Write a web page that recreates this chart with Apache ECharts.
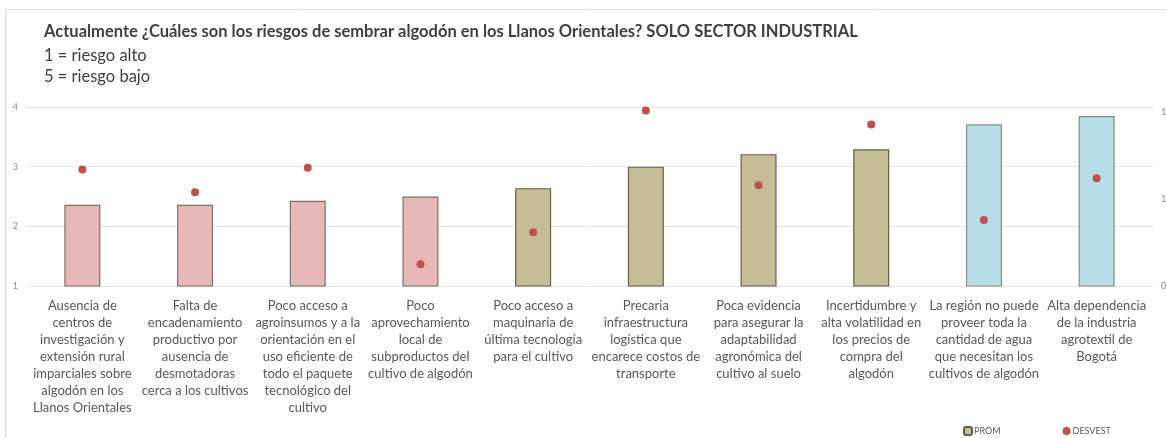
<!DOCTYPE html>
<html lang="es">
<head>
    <meta charset="UTF-8">
    <title>Riesgos algodón</title>
    <style>
        html, body { margin: 0; padding: 0; background: #fff; }
        #main { width: 1167px; height: 438px; }
    </style>
</head>
<body>
<div id="main"></div>
<script src="https://cdn.jsdelivr.net/npm/echarts@6/dist/echarts.min.js"></script>
<script>
    // categorias (saltos de linea como en el original)
    var categorias = [
        'Ausencia de\ncentros de\ninvestigación y\nextensión rural\nimparciales sobre\nalgodón en los\nLlanos Orientales',
        'Falta de\nencadenamiento\nproductivo por\nausencia de\ndesmotadoras\ncerca a los cultivos',
        'Poco acceso a\nagroinsumos y a la\norientación en el\nuso eficiente de\ntodo el paquete\ntecnológico del\ncultivo',
        'Poco\naprovechamiento\nlocal de\nsubproductos del\ncultivo de algodón',
        'Poco acceso a\nmaquinaria de\núltima tecnología\npara el cultivo',
        'Precaria\ninfraestructura\nlogística que\nencarece costos de\ntransporte',
        'Poca evidencia\npara asegurar la\nadaptabilidad\nagronómica del\ncultivo al suelo',
        'Incertidumbre y\nalta volatilidad en\nlos precios de\ncompra del\nalgodón',
        'La región no puede\nproveer toda la\ncantidad de agua\nque necesitan los\ncultivos de algodón',
        'Alta dependencia\nde la industria\nagrotextil de\nBogotá'
    ];
    var prom = [2.36, 2.36, 2.43, 2.50, 2.64, 3.00, 3.21, 3.29, 3.71, 3.85];
    var desvest = [0.67, 0.54, 0.68, 0.125, 0.31, 1.01, 0.58, 0.93, 0.38, 0.62];
    var grupo = [0, 0, 0, 0, 1, 1, 1, 1, 2, 2];
    var ejeIzq = [1, 2, 3, 4];
    // eje derecho: valores 0 / 0.5 / 1 mostrados redondeados (formato "0")
    var ejeDer = [0, 0.5, 1];
    var ejeDerTexto = ['0', '1', '1'];

    var colores = ['#E6B9B8', '#C4BD97', '#B7DEE8'];
    var bordes = ['#7d7064', '#655f4a', '#858d82'];

    var myChart = echarts.init(document.getElementById('main'));

    var barData = [];
    for (var i = 0; i < prom.length; i++) {
        barData.push({
            value: prom[i],
            itemStyle: {color: colores[grupo[i]], borderColor: bordes[grupo[i]]}
        });
    }

    var fuente = 'Lato, "Open Sans", sans-serif';

    var option = {
        animation: false,
        textStyle: {fontFamily: fuente},
        graphic: [
            {
                type: 'rect',
                shape: {x: 5.5, y: 9.5, width: 1170, height: 440},
                style: {fill: 'none', stroke: '#d9d9d9', lineWidth: 1},
                silent: true
            },
            {
                type: 'text', left: 44, top: 23,
                style: {
                    text: 'Actualmente ¿Cuáles son los riesgos de sembrar algodón en los Llanos Orientales? SOLO SECTOR INDUSTRIAL',
                    fill: '#404040', font: 'bold 16.5px ' + fuente
                }
            },
            {
                type: 'text', left: 44, top: 47,
                style: {text: '1 = riesgo alto', fill: '#404040', font: '16.5px ' + fuente}
            },
            {
                type: 'text', left: 44, top: 68,
                style: {text: '5 = riesgo bajo', fill: '#404040', font: '16.5px ' + fuente}
            }
        ],
        legend: {
            data: ['PROM', 'DESVEST'],
            left: 958,
            top: 421,
            itemGap: 62,
            itemWidth: 8,
            itemHeight: 8,
            textStyle: {fontSize: 9, color: '#595959', padding: [0, 0, 0, -3]}
        },
        grid: {left: 26, right: 14, top: 107, bottom: 152, outerBoundsMode: 'none', containLabel: false},
        xAxis: {
            type: 'category',
            data: categorias,
            axisLine: {show: false},
            axisTick: {show: false},
            axisLabel: {
                interval: 0,
                color: '#595959',
                fontSize: 13,
                lineHeight: 17,
                margin: 11,
                align: 'center'
            }
        },
        yAxis: [
            {
                type: 'value',
                min: ejeIzq[0],
                max: ejeIzq[ejeIzq.length - 1],
                interval: 1,
                axisLine: {show: false},
                axisTick: {show: false},
                axisLabel: {color: '#8c8c8c', fontSize: 9, margin: 8},
                splitLine: {lineStyle: {color: '#e3e3e3', width: 1}}
            },
            {
                type: 'value',
                min: 0,
                max: 1.03,
                interval: 0.5,
                axisLine: {show: false},
                axisTick: {show: false},
                splitLine: {show: false},
                axisLabel: {
                    color: '#8c8c8c', fontSize: 9, margin: 8,
                    hideOverlap: false,
                    showMaxLabel: false,
                    formatter: function (v) {
                        var k = ejeDer.indexOf(Math.round(v * 100) / 100);
                        return k === 1 ? '\u200b' + ejeDerTexto[k] : (k >= 0 ? ejeDerTexto[k] : '');
                    }
                }
            }
        ],
        series: [
            {
                name: 'PROM',
                type: 'bar',
                data: barData,
                barWidth: 36,
                itemStyle: {color: colores[1], borderColor: bordes[1], borderWidth: 1.2}
            },
            {
                name: 'DESVEST',
                type: 'scatter',
                yAxisIndex: 1,
                data: desvest,
                symbolSize: 8,
                itemStyle: {color: '#C0504D', opacity: 1}
            }
        ]
    };

    myChart.setOption(option);
</script>
</body>
</html>
